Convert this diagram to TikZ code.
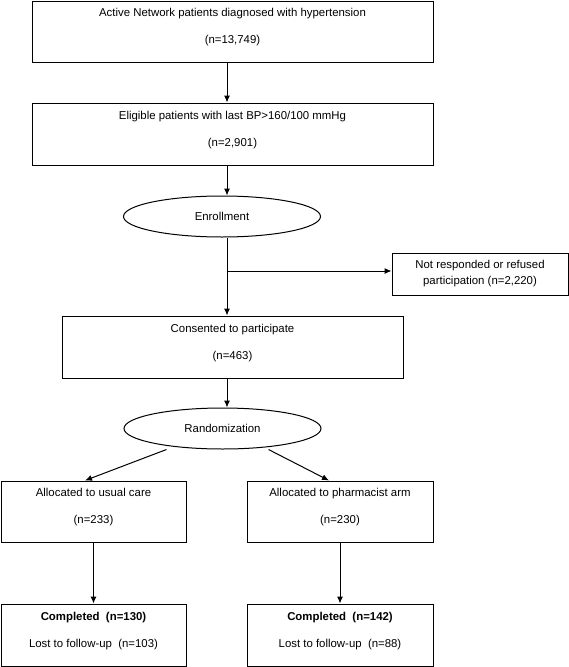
\documentclass[tikz,border=0pt]{standalone}
\usepackage{fontspec}
\setmainfont{Liberation Sans}
\usetikzlibrary{arrows.meta, positioning, shapes.geometric}
\newcommand{\flowpad}{\rule[-11pt]{0pt}{11pt}}
\tikzset{
  % Graph arrow style
  garr/.style={
    line width = 1pt,
    -{Latex[length=7pt,width=6pt]}
  },
  % boxes of the flow chart
  flowbox/.style={
    draw, line width = 1pt, align=center, inner sep=0pt,
    font=\fontsize{11.4}{27}\selectfont
  },
  flowell/.style={
    draw, ellipse, line width = 1pt, inner sep=0pt,
    minimum width=197pt, minimum height=41pt,
    font=\fontsize{11.4}{13.7}\selectfont
  },
}

\begin{document}
\begin{tikzpicture}[x=1pt,y=-1pt]
          \useasboundingbox (0,0) rectangle (568,667);
          \coordinate (spine) at (227,0);

          \node (active) [flowbox
                         , minimum width=401pt
                         , minimum height=61pt
                         ] at (232.5,31.5)
                         {Active Network patients diagnosed with hypertension\\(n=13,749)\flowpad};
          \node (elig) [flowbox
                       , minimum width=401pt
                       , minimum height=62pt
                       ] at (232.5,134)
                       {Eligible patients with last BP>160/100 mmHg\\(n=2,901)\flowpad};
          \node (enrol) [flowell] at (222,216.5) {Enrollment};
          \node (refused) [flowbox
                          , minimum width=176pt
                          , minimum height=42pt
                          , font=\fontsize{11.4}{16}\selectfont
                          ] at (480,274)
                          {Not responded or refused\\participation (n=2,220)};
          \node (consent) [flowbox
                          , minimum width=341pt
                          , minimum height=62pt
                          ] at (232.5,347)
                          {Consented to participate\\(n=463)\flowpad};
          \node (rand) [flowell] at (222.5,428.5) {Randomization};
          \node (usual) [flowbox
                        , minimum width=185pt
                        , minimum height=61pt
                        ] at (93.5,511.5)
                        {Allocated to usual care\\(n=233)\flowpad};
          \node (pharm) [flowbox
                        , minimum width=186pt
                        , minimum height=61pt
                        ] at (340,511.5)
                        {Allocated to pharmacist arm\\(n=230)\flowpad};
          \node (done1) [flowbox
                        , minimum width=185pt
                        , minimum height=62pt
                        ] at (93.5,635)
                        {\textbf{Completed\ \ (n=130)}\\Lost to follow-up\ \ (n=103)\flowpad};
          \node (done2) [flowbox
                        , minimum width=186pt
                        , minimum height=62pt
                        ] at (340,635)
                        {\textbf{Completed\ \ (n=142)}\\Lost to follow-up\ \ (n=88)\flowpad};

          \coordinate (split) at (227,271);

          \draw[garr] (active.south -| spine) -- (elig.north -| spine);
          \draw[garr] (elig.south -| spine) -- (enrol.north -| spine);
          \draw[garr] (enrol.south -| spine) -- (consent.north -| spine);
          \draw[garr] (split) -- (split -| refused.west);
          \draw[garr] (consent.south -| spine) -- (rand.north -| spine);
          \draw[garr] ([xshift=-56pt]rand.south) -- ([xshift=-8.5pt]usual.north);
          \draw[garr] ([xshift=46pt]rand.south) -- ([xshift=-11pt]pharm.north);
          \draw[garr] (usual) -- (done1);
          \draw[garr] (pharm) -- (done2);
      \end{tikzpicture}
\end{document}
